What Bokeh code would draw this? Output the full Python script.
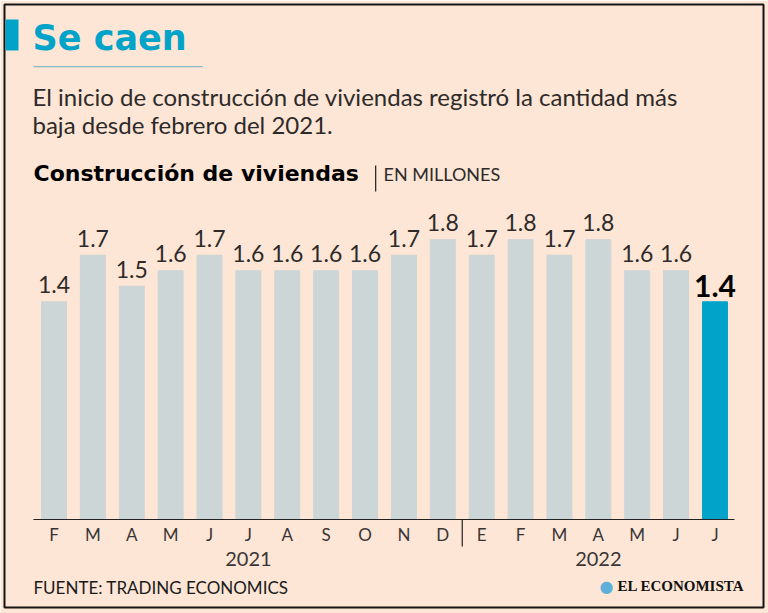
from bokeh.plotting import figure
from bokeh.models import ColumnDataSource, Label, BoxAnnotation, Range1d
from bokeh.core.properties import value
from bokeh.embed import file_html
from bokeh.resources import INLINE

# ---------------- data ----------------
months = ["F", "M", "A", "M", "J", "J", "A", "S", "O", "N", "D",
          "E", "F", "M", "A", "M", "J", "J"]
starts = [1.4, 1.7, 1.5, 1.6, 1.7, 1.6, 1.6, 1.6, 1.6, 1.7, 1.8,
          1.7, 1.8, 1.7, 1.8, 1.6, 1.6, 1.4]
years = ["2021", "2022"]
year_counts = [11, 7]

title_text = "Se caen"
subtitle_1 = "El inicio de construcción de viviendas registró la cantidad más"
subtitle_2 = "baja desde febrero del 2021."
chart_title = "Construcción de viviendas"
chart_unit = "EN MILLONES"
source_text = "FUENTE: TRADING ECONOMICS"
brand_text = "EL ECONOMISTA"

# ---------------- style ----------------
BG = "#fde6d5"
BAR = "#cdd6d6"
TEAL = "#02a3c9"
DARK = "#2e2a2a"
W, H = 768, 613
PXU = 155.5            # pixels per million on the y scale
TDY = 8                # text baseline correction (px)

n = len(starts)
xs = list(range(n))
colors = [BAR] * (n - 1) + [TEAL]

p = figure(width=W, height=H, output_backend="svg", toolbar_location=None,
           x_axis_type=None, y_axis_type=None,
           x_range=Range1d(-1.273, 18.248), y_range=Range1d(-0.566, 3.312),
           min_border_left=4, min_border_right=5, min_border_top=4, min_border_bottom=6)
p.background_fill_color = BG
p.border_fill_color = BG
p.outline_line_color = "#151515"
p.outline_line_width = 2
p.grid.visible = False

# bars
src = ColumnDataSource(dict(x=xs, top=starts, color=colors))
p.vbar(x="x", top="top", bottom=0, width=0.643, color="color", source=src)

# value labels
lab = ColumnDataSource(dict(x=xs[:-1], y=starts[:-1], t=[f"{v:.1f}" for v in starts[:-1]]))
p.text(x="x", y="y", text="t", source=lab, text_align="center", text_baseline="alphabetic",
       y_offset=-9 - TDY, text_font=value("Lato"), text_font_size="23px", text_color=DARK)
last = ColumnDataSource(dict(x=xs[-1:], y=starts[-1:], t=[f"{v:.1f}" for v in starts[-1:]]))
p.text(x="x", y="y", text="t", source=last, text_align="center", text_baseline="alphabetic",
       y_offset=-8 - TDY, text_font=value("Lato"), text_font_style="bold", text_font_size="30px",
       text_color="#000000")

# baseline and year separator
p.segment(x0=[-0.53], y0=[0], x1=[n - 0.5], y1=[0], line_color="#222222", line_width=1.2)
sep = year_counts[0] - 0.5
p.segment(x0=[sep], y0=[0], x1=[sep], y1=[-27 / PXU], line_color="#222222", line_width=1.2)

# month labels
ms = ColumnDataSource(dict(x=xs, y=[0] * n, t=months))
p.text(x="x", y="y", text="t", source=ms, text_align="center", text_baseline="alphabetic",
       y_offset=23 - TDY, text_font=value("Lato"), text_font_size="17px", text_color="#3a3535")

# year labels
ypos, s = [], 0
for c in year_counts:
    ypos.append(s + (c - 1) / 2)
    s += c
ys = ColumnDataSource(dict(x=ypos, y=[0] * len(years), t=years))
p.text(x="x", y="y", text="t", source=ys, text_align="center", text_baseline="alphabetic",
       y_offset=48 - TDY, text_font=value("Lato"), text_font_size="20px", text_color="#3a3535")

# ---------------- header / footer (screen units relative to frame) ----------------
FL, FB = 4, 607   # page coordinates of frame left / bottom


def sx(px):
    return px - FL


def sy(py):
    return FB - py


def box(x0, x1, y0, y1, color):
    p.add_layout(BoxAnnotation(left=sx(x0), right=sx(x1), top=sy(y0), bottom=sy(y1),
                               left_units="screen", right_units="screen",
                               top_units="screen", bottom_units="screen",
                               fill_color=color, fill_alpha=1, line_color=None))


def label(text, x, y, size, color, font="Lato", style="normal"):
    p.add_layout(Label(x=sx(x), y=sy(y - TDY), x_units="screen", y_units="screen", text=text,
                       text_font=font, text_font_size=size, text_color=color,
                       text_font_style=style, text_baseline="alphabetic"))


box(5, 18, 19, 50, TEAL)
label(title_text, 32, 45, "35px", TEAL, font="DejaVu Sans", style="bold")
box(33, 202, 65.5, 66.7, "#86b9c6")
label(subtitle_1, 32, 104, "24px", DARK)
label(subtitle_2, 32, 132, "24px", DARK)
label(chart_title, 33, 181, "22px", "#000000", font="DejaVu Sans", style="bold")
box(374.5, 375.8, 165, 191, DARK)
label(chart_unit, 383, 181, "18px", DARK)
label(source_text, 33, 595, "17px", "#1a1a1a")
label("●", 599, 594, "16px", "#5fb0d8", font="DejaVu Sans")
label(brand_text, 617, 593, "15px", "#111111", font="Liberation Serif", style="bold")

open("out.html", "w").write(file_html(p, INLINE))
